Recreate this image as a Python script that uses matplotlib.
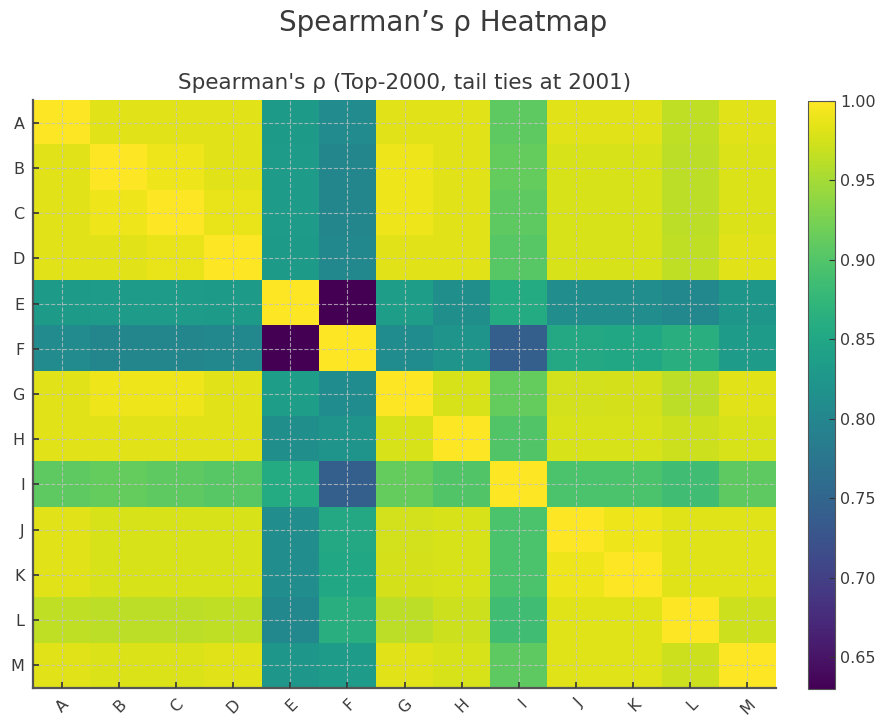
import numpy as np
import matplotlib
matplotlib.use("Agg")
import matplotlib.pyplot as plt

labels = ["A", "B", "C", "D", "E", "F", "G", "H", "I", "J", "K", "L", "M"]

# Rows of the symmetric Spearman's rho matrix
row_A = [1.000, 0.983, 0.983, 0.983, 0.832, 0.808, 0.983, 0.983, 0.908, 0.983, 0.983, 0.965, 0.983]
row_B = [0.983, 1.000, 0.991, 0.983, 0.833, 0.800, 0.991, 0.983, 0.913, 0.978, 0.978, 0.963, 0.980]
row_C = [0.983, 0.991, 1.000, 0.988, 0.833, 0.800, 0.991, 0.983, 0.908, 0.978, 0.978, 0.963, 0.980]
row_D = [0.983, 0.983, 0.988, 1.000, 0.832, 0.802, 0.983, 0.983, 0.904, 0.978, 0.978, 0.964, 0.983]
row_E = [0.832, 0.833, 0.833, 0.832, 1.000, 0.630, 0.838, 0.815, 0.858, 0.812, 0.812, 0.802, 0.826]
row_F = [0.808, 0.800, 0.800, 0.802, 0.630, 1.000, 0.810, 0.822, 0.742, 0.853, 0.850, 0.862, 0.833]
row_G = [0.983, 0.991, 0.991, 0.983, 0.838, 0.810, 1.000, 0.978, 0.912, 0.974, 0.976, 0.963, 0.983]
row_H = [0.983, 0.983, 0.983, 0.983, 0.815, 0.822, 0.978, 1.000, 0.900, 0.978, 0.978, 0.972, 0.978]
row_I = [0.908, 0.913, 0.908, 0.904, 0.858, 0.742, 0.912, 0.900, 1.000, 0.895, 0.895, 0.886, 0.908]
row_J = [0.983, 0.978, 0.978, 0.978, 0.812, 0.853, 0.974, 0.978, 0.895, 1.000, 0.990, 0.982, 0.982]
row_K = [0.983, 0.978, 0.978, 0.978, 0.812, 0.850, 0.976, 0.978, 0.895, 0.990, 1.000, 0.982, 0.982]
row_L = [0.965, 0.963, 0.963, 0.964, 0.802, 0.862, 0.963, 0.972, 0.886, 0.982, 0.982, 1.000, 0.972]
row_M = [0.983, 0.980, 0.980, 0.983, 0.826, 0.833, 0.983, 0.978, 0.908, 0.982, 0.982, 0.972, 1.000]

rho = np.array([row_A, row_B, row_C, row_D, row_E, row_F, row_G,
                row_H, row_I, row_J, row_K, row_L, row_M])

text_color = "#3a3a3a"
plt.rcParams["font.family"] = ["DejaVu Sans"]

fig = plt.figure(figsize=(8.87, 7.17), dpi=100)
ax = fig.add_axes([33 / 887, 1 - 688 / 717, (776 - 33) / 887, (688 - 100) / 717])
cax = fig.add_axes([808 / 887, 1 - 689 / 717, (835 - 808) / 887, (689 - 101) / 717])

im = ax.imshow(rho, cmap="viridis", vmin=rho.min(), vmax=1.0, aspect="auto",
               interpolation="nearest")

ax.set_xticks(range(len(labels)))
ax.set_yticks(range(len(labels)))
ax.set_xticklabels(labels, rotation=45, ha="right", rotation_mode="anchor",
                   fontsize=11.5, color=text_color)
ax.set_yticklabels(labels, fontsize=11.5, color=text_color)
ax.tick_params(direction="in", length=4, width=1.2, color="#333333", pad=6)
ax.tick_params(axis="x", pad=6)
ax.grid(True, linestyle="--", color="#c4c4c4", linewidth=0.8, alpha=0.75)
ax.set_axisbelow(False)
for s in ["top", "right"]:
    ax.spines[s].set_visible(False)
for s in ["left", "bottom"]:
    ax.spines[s].set_color("#555555")
    ax.spines[s].set_linewidth(1.6)

ax.set_title("Spearman's ρ (Top-2000, tail ties at 2001)", fontsize=15.5,
             color=text_color, pad=8)
fig.suptitle("Spearman’s ρ Heatmap", fontsize=20, color=text_color, y=0.988)

cb = fig.colorbar(im, cax=cax)
cb.set_ticks([0.65, 0.70, 0.75, 0.80, 0.85, 0.90, 0.95, 1.00])
cb.ax.tick_params(labelsize=11.5, labelcolor=text_color, direction="in",
                  length=4, color="#333333")
cb.ax.yaxis.set_major_formatter(matplotlib.ticker.FormatStrFormatter("%.2f"))
cb.outline.set_edgecolor("#555555")

fig.savefig("out.png", dpi=100)
